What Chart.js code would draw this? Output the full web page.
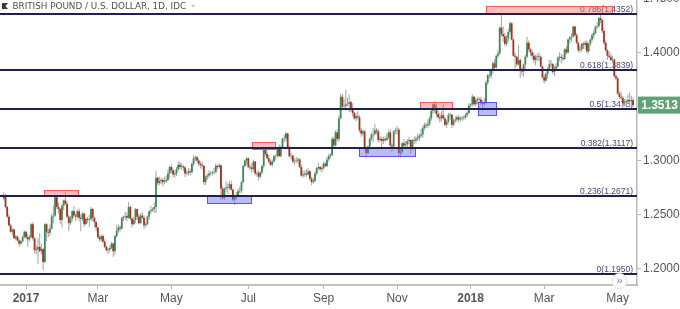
<!DOCTYPE html>
<html><head><meta charset="utf-8">
<script src="https://cdn.jsdelivr.net/npm/chart.js@4.4.1/dist/chart.umd.min.js"></script>
<style>html,body{margin:0;padding:0;background:#fff;overflow:hidden}#wrap{position:relative;width:680px;height:309px}canvas{display:block}</style>
</head><body><div id="wrap"><canvas id="c" width="680" height="309"></canvas></div>
<script>
// Daily GBP/USD candles, index 0 = 14 Dec 2016 ... index 368 = 14 May 2018
const opens=[
1.2650,1.2680,1.2570,1.2480,1.2400,1.2340,1.2360,1.2280,1.2295,1.2260,1.2230,1.2250,1.2290,
1.2340,1.2290,1.2270,1.2290,1.2410,1.2280,1.2170,1.2180,1.2200,1.2160,1.2180,1.2060,1.2410,1.2340,1.2330,1.2370,1.2480,1.2490,1.2660,1.2570,1.2550,1.2450,
1.2580,1.2630,1.2600,1.2480,1.2420,1.2460,1.2530,1.2490,1.2480,1.2530,1.2470,1.2460,1.2510,1.2410,1.2460,1.2450,1.2455,1.2550,1.2470,1.2430,
1.2380,1.2290,1.2270,1.2300,1.2250,1.2200,1.2170,1.2175,1.2190,1.2230,1.2160,1.2300,1.2350,1.2380,1.2370,1.2470,1.2480,1.2485,1.2470,1.2570,1.2460,1.2410,1.2450,
1.2550,1.2480,1.2420,1.2490,1.2470,1.2400,1.2410,1.2480,1.2530,1.2540,1.2550,1.2570,1.2840,1.2790,1.2810,1.2820,1.2800,1.2810,1.2820,1.2880,
1.2940,1.2910,1.2870,1.2880,1.2920,1.2960,1.2940,1.2945,1.2935,1.2880,1.2885,1.2900,1.2890,1.2970,1.3020,1.3030,1.3000,1.2970,1.2960,1.2950,1.2800,1.2850,1.2860,
1.2880,1.2885,1.2890,1.2895,1.2950,1.2940,1.2955,1.2740,1.2655,1.2740,1.2750,1.2745,1.2780,1.2730,1.2640,1.2660,1.2680,1.2715,1.2720,1.2800,1.2950,1.3000,
1.3020,1.2940,1.2935,1.2920,1.2990,1.2880,1.2885,1.2850,1.2890,1.2950,1.3100,1.3060,1.3020,1.2990,1.2960,1.2990,1.3040,1.3045,1.3110,1.3040,1.3120,
1.3200,1.3205,1.3250,1.3120,1.3040,1.3045,1.2990,1.2995,1.3000,1.3010,1.2940,1.2860,1.2870,1.2880,1.2870,1.2900,1.2830,1.2800,1.2810,1.2880,1.2930,1.2940,1.2920,
1.2930,1.2970,1.2950,1.3010,1.3040,1.3050,1.3200,1.3140,1.3260,1.3200,1.3390,1.3590,1.3500,1.3505,1.3520,1.3525,1.3540,1.3470,1.3440,1.3390,1.3410,
1.3400,1.3280,1.3250,1.3270,1.3110,1.3070,1.3130,1.3200,1.3240,1.3245,1.3280,1.3270,1.3190,1.3200,1.3180,1.3200,1.3190,1.3210,1.3260,1.3140,1.3130,1.3270,
1.3280,1.3285,1.3070,1.3080,1.3160,1.3140,1.3150,1.3180,1.3190,1.3120,1.3190,1.3185,1.3200,1.3210,1.3230,1.3240,1.3300,1.3330,1.3325,1.3340,1.3390,1.3460,
1.3520,1.3490,1.3430,1.3400,1.3390,1.3420,1.3390,1.3330,1.3360,1.3420,1.3425,1.3330,1.3370,1.3380,1.3400,1.3380,1.3390,1.3395,1.3400,1.3420,1.3440,
1.3510,1.3520,1.3590,1.3520,1.3560,1.3570,1.3565,1.3530,1.3525,1.3540,1.3720,1.3790,1.3785,1.3830,1.3900,1.3860,1.3970,1.3990,1.4230,1.4170,1.4150,1.4080,1.4130,
1.4190,1.4270,1.4120,1.3970,1.3960,1.3890,1.3930,1.3830,1.3825,1.3890,1.3960,1.4090,1.4030,1.4000,1.3970,1.3930,1.3960,1.3965,1.3960,1.3870,
1.3770,1.3740,1.3800,1.3850,1.3890,1.3895,1.3820,1.3850,1.3870,1.3950,1.3960,1.3950,1.3940,1.4030,1.4000,1.4120,1.4140,1.4145,1.4240,1.4160,1.4090,1.4020,
1.4030,1.4080,1.4070,1.4090,1.4010,1.4080,1.4120,1.4160,1.4180,1.4240,1.4245,1.4320,1.4300,1.4200,1.4090,1.4020,1.3970,1.3960,1.3930,1.3935,1.3780,
1.3760,1.3620,1.3590,1.3580,1.3530,1.3540,1.3550,1.3560,1.3550,1.3560];
const highs=[
1.2705,1.2690,1.2580,1.2500,1.2415,1.2375,1.2370,1.2310,1.2305,1.2275,1.2265,1.2305,1.2355,
1.2345,1.2320,1.2310,1.2420,1.2430,1.2290,1.2215,1.2280,1.2325,1.2230,1.2190,1.2420,1.2420,1.2370,1.2410,1.2510,1.2580,1.2675,1.2670,1.2610,1.2560,1.2595,
1.2640,1.2706,1.2620,1.2495,1.2485,1.2545,1.2580,1.2510,1.2545,1.2555,1.2500,1.2520,1.2515,1.2470,1.2480,1.2495,1.2570,1.2560,1.2480,1.2440,
1.2390,1.2310,1.2315,1.2315,1.2270,1.2215,1.2195,1.2215,1.2245,1.2240,1.2310,1.2400,1.2410,1.2400,1.2480,1.2490,1.2525,1.2520,1.2615,1.2580,1.2470,1.2480,1.2560,
1.2555,1.2505,1.2515,1.2520,1.2490,1.2430,1.2490,1.2540,1.2580,1.2565,1.2610,1.2905,1.2850,1.2850,1.2840,1.2835,1.2850,1.2860,1.2920,1.2950,
1.2965,1.2925,1.2905,1.2940,1.2990,1.2990,1.2975,1.2960,1.2950,1.2915,1.2930,1.2925,1.2980,1.3048,1.3045,1.3045,1.3020,1.2990,1.2990,1.2955,1.2860,1.2880,1.2910,
1.2900,1.2905,1.2930,1.2975,1.2960,1.2975,1.2960,1.2760,1.2750,1.2810,1.2790,1.2810,1.2815,1.2740,1.2680,1.2710,1.2740,1.2760,1.2810,1.2960,1.3010,1.3030,
1.3030,1.2960,1.2975,1.3010,1.2995,1.2900,1.2910,1.2900,1.2960,1.3110,1.3126,1.3090,1.3050,1.3010,1.3010,1.3050,1.3055,1.3125,1.3150,1.3140,1.3210,
1.3240,1.3267,1.3255,1.3140,1.3070,1.3050,1.3020,1.3030,1.3030,1.3020,1.2960,1.2905,1.2910,1.2920,1.2930,1.2910,1.2850,1.2840,1.2900,1.2940,1.2980,1.2950,1.2950,
1.2990,1.2985,1.3030,1.3060,1.3070,1.3220,1.3220,1.3280,1.3290,1.3420,1.3616,1.3615,1.3570,1.3657,1.3580,1.3612,1.3550,1.3530,1.3450,1.3435,1.3455,
1.3420,1.3300,1.3290,1.3280,1.3125,1.3140,1.3215,1.3260,1.3300,1.3338,1.3300,1.3290,1.3230,1.3215,1.3220,1.3225,1.3250,1.3280,1.3290,1.3160,1.3280,1.3300,
1.3320,1.3300,1.3120,1.3170,1.3200,1.3180,1.3200,1.3220,1.3195,1.3200,1.3220,1.3230,1.3250,1.3250,1.3290,1.3320,1.3350,1.3350,1.3380,1.3410,1.3480,1.3530,
1.3550,1.3537,1.3460,1.3440,1.3460,1.3520,1.3400,1.3380,1.3440,1.3440,1.3430,1.3390,1.3410,1.3420,1.3420,1.3410,1.3410,1.3420,1.3440,1.3460,1.3530,
1.3530,1.3613,1.3600,1.3580,1.3590,1.3590,1.3590,1.3560,1.3580,1.3740,1.3800,1.3830,1.3850,1.3920,1.3940,1.3980,1.4020,1.4240,1.4345,1.4240,1.4180,1.4160,1.4220,
1.4285,1.4280,1.4130,1.4000,1.3970,1.4070,1.3950,1.3860,1.3900,1.3980,1.4145,1.4110,1.4040,1.4020,1.4000,1.3980,1.3990,1.4000,1.3975,1.3880,
1.3800,1.3815,1.3860,1.3930,1.3930,1.3900,1.3880,1.3900,1.3970,1.4000,1.3990,1.3980,1.4040,1.4060,1.4130,1.4150,1.4180,1.4245,1.4245,1.4180,1.4100,1.4060,
1.4090,1.4100,1.4110,1.4110,1.4090,1.4130,1.4180,1.4210,1.4250,1.4280,1.4330,1.4350,1.4310,1.4220,1.4110,1.4030,1.4010,1.3990,1.3970,1.3945,1.3800,
1.3770,1.3640,1.3640,1.3600,1.3570,1.3570,1.3610,1.3630,1.3600,1.3580];
const lows=[
1.2630,1.2555,1.2465,1.2390,1.2330,1.2305,1.2270,1.2260,1.2250,1.2200,1.2220,1.2240,1.2280,
1.2270,1.2200,1.2250,1.2280,1.2260,1.2140,1.2130,1.2040,1.2150,1.2130,1.1986,1.2050,1.2255,1.2290,1.2300,1.2360,1.2420,1.2480,1.2550,1.2510,1.2415,1.2380,
1.2540,1.2590,1.2470,1.2345,1.2400,1.2440,1.2475,1.2440,1.2460,1.2435,1.2345,1.2440,1.2385,1.2405,1.2420,1.2385,1.2440,1.2440,1.2385,1.2345,
1.2275,1.2250,1.2245,1.2235,1.2190,1.2155,1.2135,1.2150,1.2180,1.2109,1.2130,1.2285,1.2330,1.2340,1.2360,1.2440,1.2450,1.2440,1.2460,1.2445,1.2380,1.2400,1.2420,
1.2450,1.2410,1.2410,1.2460,1.2365,1.2380,1.2400,1.2450,1.2505,1.2525,1.2515,1.2515,1.2770,1.2770,1.2780,1.2760,1.2780,1.2795,1.2810,1.2840,
1.2880,1.2845,1.2840,1.2855,1.2900,1.2920,1.2915,1.2900,1.2845,1.2860,1.2860,1.2860,1.2880,1.2950,1.2995,1.2975,1.2945,1.2925,1.2920,1.2775,1.2770,1.2820,1.2840,
1.2860,1.2860,1.2870,1.2880,1.2920,1.2925,1.2635,1.2640,1.2630,1.2710,1.2690,1.2730,1.2720,1.2625,1.2589,1.2640,1.2670,1.2695,1.2700,1.2790,1.2940,1.2960,
1.2930,1.2910,1.2890,1.2900,1.2860,1.2850,1.2812,1.2830,1.2870,1.2930,1.3040,1.3010,1.2975,1.2950,1.2945,1.2980,1.3010,1.3030,1.3030,1.3030,1.3110,
1.3170,1.3180,1.3110,1.3030,1.3010,1.2975,1.2960,1.2975,1.2975,1.2930,1.2850,1.2840,1.2850,1.2850,1.2860,1.2815,1.2774,1.2785,1.2800,1.2860,1.2910,1.2900,1.2890,
1.2910,1.2940,1.2940,1.2990,1.3020,1.3040,1.3120,1.3130,1.3180,1.3170,1.3380,1.3470,1.3490,1.3460,1.3500,1.3450,1.3450,1.3410,1.3380,1.3360,1.3380,
1.3260,1.3220,1.3230,1.3100,1.3027,1.3060,1.3120,1.3180,1.3170,1.3230,1.3240,1.3170,1.3170,1.3120,1.3150,1.3170,1.3180,1.3200,1.3120,1.3080,1.3120,1.3240,
1.3240,1.3040,1.3030,1.3060,1.3110,1.3110,1.3110,1.3150,1.3065,1.3100,1.3150,1.3160,1.3180,1.3180,1.3210,1.3210,1.3280,1.3300,1.3300,1.3320,1.3370,1.3430,
1.3440,1.3400,1.3380,1.3350,1.3360,1.3380,1.3320,1.3300,1.3340,1.3380,1.3300,1.3320,1.3350,1.3360,1.3350,1.3360,1.3370,1.3370,1.3380,1.3400,1.3430,
1.3490,1.3500,1.3510,1.3500,1.3520,1.3540,1.3510,1.3460,1.3500,1.3520,1.3700,1.3760,1.3760,1.3800,1.3850,1.3850,1.3950,1.3980,1.4150,1.4100,1.4060,1.4060,1.4100,
1.4170,1.4110,1.3960,1.3850,1.3870,1.3880,1.3765,1.3790,1.3770,1.3850,1.3950,1.4010,1.3970,1.3940,1.3900,1.3880,1.3920,1.3920,1.3860,1.3760,
1.3712,1.3730,1.3760,1.3830,1.3860,1.3800,1.3780,1.3830,1.3860,1.3920,1.3900,1.3920,1.3930,1.3980,1.3990,1.4080,1.4100,1.4140,1.4150,1.4080,1.4000,1.4000,
1.4010,1.4030,1.4030,1.3990,1.3990,1.4060,1.4100,1.4130,1.4170,1.4220,1.4230,1.4270,1.4180,1.4070,1.4010,1.3930,1.3950,1.3920,1.3900,1.3770,1.3740,
1.3610,1.3570,1.3560,1.3490,1.3500,1.3480,1.3520,1.3490,1.3500,1.3490];
const closes=[
1.2680,1.2570,1.2480,1.2400,1.2340,1.2360,1.2280,1.2295,1.2260,1.2230,1.2250,1.2290,1.2340,
1.2290,1.2270,1.2290,1.2410,1.2280,1.2170,1.2180,1.2200,1.2160,1.2180,1.2060,1.2410,1.2340,1.2330,1.2370,1.2480,1.2490,1.2660,1.2570,1.2550,1.2450,1.2580,
1.2630,1.2600,1.2480,1.2420,1.2460,1.2530,1.2490,1.2480,1.2530,1.2470,1.2460,1.2510,1.2410,1.2460,1.2450,1.2455,1.2550,1.2470,1.2430,1.2380,
1.2290,1.2270,1.2300,1.2250,1.2200,1.2170,1.2175,1.2190,1.2230,1.2160,1.2300,1.2350,1.2380,1.2370,1.2470,1.2480,1.2485,1.2470,1.2570,1.2460,1.2410,1.2450,1.2550,
1.2480,1.2420,1.2490,1.2470,1.2400,1.2410,1.2480,1.2530,1.2540,1.2550,1.2570,1.2840,1.2790,1.2810,1.2820,1.2800,1.2810,1.2820,1.2880,1.2940,
1.2910,1.2870,1.2880,1.2920,1.2960,1.2940,1.2945,1.2935,1.2880,1.2885,1.2900,1.2890,1.2970,1.3020,1.3030,1.3000,1.2970,1.2960,1.2950,1.2800,1.2850,1.2860,1.2880,
1.2885,1.2890,1.2895,1.2950,1.2940,1.2955,1.2740,1.2655,1.2740,1.2750,1.2745,1.2780,1.2730,1.2640,1.2660,1.2680,1.2715,1.2720,1.2800,1.2950,1.3000,1.3020,
1.2940,1.2935,1.2920,1.2990,1.2880,1.2885,1.2850,1.2890,1.2950,1.3100,1.3060,1.3020,1.2990,1.2960,1.2990,1.3040,1.3045,1.3110,1.3040,1.3120,1.3200,
1.3205,1.3250,1.3120,1.3040,1.3045,1.2990,1.2995,1.3000,1.3010,1.2940,1.2860,1.2870,1.2880,1.2870,1.2900,1.2830,1.2800,1.2810,1.2880,1.2930,1.2940,1.2920,1.2930,
1.2970,1.2950,1.3010,1.3040,1.3050,1.3200,1.3140,1.3260,1.3200,1.3390,1.3590,1.3500,1.3505,1.3520,1.3525,1.3540,1.3470,1.3440,1.3390,1.3410,1.3400,
1.3280,1.3250,1.3270,1.3110,1.3070,1.3130,1.3200,1.3240,1.3245,1.3280,1.3270,1.3190,1.3200,1.3180,1.3200,1.3190,1.3210,1.3260,1.3140,1.3130,1.3270,1.3280,
1.3285,1.3070,1.3080,1.3160,1.3140,1.3150,1.3180,1.3190,1.3120,1.3190,1.3185,1.3200,1.3210,1.3230,1.3240,1.3300,1.3330,1.3325,1.3340,1.3390,1.3460,1.3520,
1.3490,1.3430,1.3400,1.3390,1.3420,1.3390,1.3330,1.3360,1.3420,1.3425,1.3330,1.3370,1.3380,1.3400,1.3380,1.3390,1.3395,1.3400,1.3420,1.3440,1.3510,
1.3520,1.3590,1.3520,1.3560,1.3570,1.3565,1.3530,1.3525,1.3540,1.3720,1.3790,1.3785,1.3830,1.3900,1.3860,1.3970,1.3990,1.4230,1.4170,1.4150,1.4080,1.4130,1.4190,
1.4270,1.4120,1.3970,1.3960,1.3890,1.3930,1.3830,1.3825,1.3890,1.3960,1.4090,1.4030,1.4000,1.3970,1.3930,1.3960,1.3965,1.3960,1.3870,1.3770,
1.3740,1.3800,1.3850,1.3890,1.3895,1.3820,1.3850,1.3870,1.3950,1.3960,1.3950,1.3940,1.4030,1.4000,1.4120,1.4140,1.4145,1.4240,1.4160,1.4090,1.4020,1.4030,
1.4080,1.4070,1.4090,1.4010,1.4080,1.4120,1.4160,1.4180,1.4240,1.4245,1.4320,1.4300,1.4200,1.4090,1.4020,1.3970,1.3960,1.3930,1.3935,1.3780,1.3760,
1.3620,1.3590,1.3580,1.3530,1.3540,1.3550,1.3560,1.3550,1.3560,1.3513];

// x-axis month ticks (candle index) and labels
const tickIdx=[13,55,98,143,187,230,273,316,359];
const tickLabels=["2017","Mar","May","Jul","Sep","Nov","2018","Mar","May"];
// y-axis price ticks
const priceTicks=[1.20,1.25,1.30,1.35,1.40,1.45];
// Fibonacci retracement levels
const fibRatios=["0","0.236","0.382","0.5","0.618","0.786"];
const fibLevels=[1.1950,1.2671,1.3117,1.3478,1.3839,1.4352];
// support / resistance zones (candle index range, price range)
const zoneStart=[23.5,118.7,144.9,207.9,243.4,277.5,281.8];
const zoneEnd=[44.0,145.0,158.9,240.9,262.5,288.7,356.4];
const zoneTop=[1.2727,1.2671,1.3169,1.3116,1.3539,1.3544,1.4431];
const zoneBottom=[1.2671,1.2593,1.3097,1.3037,1.3463,1.3410,1.4352];
const zoneKind=["res","sup","res","sup","res","sup","res"];
const title="BRITISH POUND / U.S. DOLLAR, 1D, IDC";

const UP='#3d8a58', DOWN='#a5321f', WICK='#a3a3a3';
const FONT='"Liberation Sans", Arial, sans-serif';

const overlay={
  id:'overlay',
  beforeDatasetsDraw(chart){
    const {ctx,chartArea:a,scales:{y}}=chart;
    ctx.save();
    ctx.font='8.5px '+FONT;
    ctx.fillStyle='#45457a'; ctx.textAlign='right'; ctx.textBaseline='alphabetic';
    fibLevels.forEach((v,i)=>{
      const py=Math.round(y.getPixelForValue(v));
      ctx.fillText(fibRatios[i]+'('+v.toFixed(4)+')',a.right-4,py-2);
    });
    ctx.restore();
  },
  afterDatasetsDraw(chart){
    const {ctx,chartArea:a,scales:{x,y}}=chart;
    ctx.save();
    ctx.beginPath(); ctx.rect(a.left,a.top,a.right-a.left,a.bottom-a.top); ctx.clip();
    zoneStart.forEach((s,i)=>{
      const x0=Math.round(x.getPixelForValue(s)), x1=Math.round(x.getPixelForValue(zoneEnd[i]));
      const y0=Math.round(y.getPixelForValue(zoneTop[i])), y1=Math.round(y.getPixelForValue(zoneBottom[i]));
      const red=zoneKind[i]==='res';
      ctx.fillStyle=red?'rgba(244,110,110,0.45)':'rgba(105,105,245,0.45)';
      ctx.fillRect(x0,y0,x1-x0,y1-y0);
      ctx.strokeStyle=red?'rgba(238,80,80,0.85)':'rgba(70,70,235,0.85)';
      ctx.lineWidth=1;
      ctx.strokeRect(x0+0.5,y0+0.5,x1-x0-1,y1-y0-1);
    });
    ctx.strokeStyle='#1f1f52'; ctx.lineWidth=2;
    fibLevels.forEach(v=>{
      const py=Math.round(y.getPixelForValue(v));
      ctx.beginPath(); ctx.moveTo(a.left,py); ctx.lineTo(a.right,py); ctx.stroke();
    });
    ctx.restore();
  },
  afterDraw(chart){
    const {ctx,chartArea:a,scales:{y},width}=chart;
    ctx.save();
    // title
    ctx.fillStyle='#3a3a3a'; ctx.fillRect(2,3,6,6);
    ctx.fillStyle='#fff'; ctx.beginPath(); ctx.moveTo(8,3); ctx.lineTo(5.5,6); ctx.lineTo(8,9); ctx.closePath(); ctx.fill();
    ctx.font='8.8px "DejaVu Sans", sans-serif'; ctx.fillStyle='#505050'; ctx.textAlign='left'; ctx.textBaseline='middle';
    ctx.fillText(title,12.5,6.5);
    const tw=ctx.measureText(title).width;
    ctx.fillStyle='#c0c0c0'; ctx.beginPath();
    ctx.moveTo(12.5+tw+5,5); ctx.lineTo(12.5+tw+9,5); ctx.lineTo(12.5+tw+7,7.5); ctx.closePath(); ctx.fill();
    // last price label
    const last=closes[closes.length-1];
    const py=y.getPixelForValue(last);
    ctx.fillStyle='#5fa275';
    ctx.fillRect(a.right+1,py-8.5,width-a.right-1,17);
    ctx.fillStyle='#fff'; ctx.font='bold 12px '+FONT; ctx.textAlign='center'; ctx.textBaseline='middle';
    ctx.fillText(last.toFixed(4),(a.right+width)/2+1,py+0.5);
    // scroll button
    ctx.beginPath(); ctx.arc(619.5,281,7.5,0,Math.PI*2);
    ctx.fillStyle='#fff'; ctx.fill(); ctx.strokeStyle='#e2e2e2'; ctx.lineWidth=1; ctx.stroke();
    ctx.fillStyle='#6a8dbf'; ctx.font='11px '+FONT; ctx.fillText('\u00bb',619.5,280.5);
    ctx.restore();
  }
};

const bodyData=closes.map((c,i)=>({x:i,y:[opens[i],c]}));
const wickData=highs.map((h,i)=>({x:i,y:[lows[i],h]}));
const candleColor=ctx=>closes[ctx.dataIndex]>=opens[ctx.dataIndex]?UP:DOWN;
const noPad=s=>{s.paddingTop=0;s.paddingBottom=0;s.paddingLeft=0;s.paddingRight=0;};

new Chart(document.getElementById('c'),{
  type:'bar',
  data:{datasets:[
    {data:wickData,backgroundColor:WICK,barThickness:1,grouped:false,order:2,inflateAmount:0,borderWidth:0},
    {data:bodyData,backgroundColor:candleColor,barThickness:1.8,grouped:false,order:1,inflateAmount:0,borderWidth:0}
  ]},
  options:{
    responsive:false,animation:false,devicePixelRatio:1,
    layout:{padding:0},
    plugins:{legend:{display:false},tooltip:{enabled:false}},
    scales:{
      x:{type:'linear',min:-2.22,max:370.3,offset:false,
        grid:{drawOnChartArea:false,drawTicks:true,tickLength:4,color:'#b5b5b5',offset:false},
        border:{display:true,color:'#c2c2c2',width:2},
        afterBuildTicks:s=>{s.ticks=tickIdx.map(v=>({value:v}));},
        afterFit:s=>{s.height=24;noPad(s);},
        ticks:{autoSkip:false,maxRotation:0,padding:2,color:'#555',
          font:ctx=>({family:FONT,size:12,weight:(ctx.tick&&/^\d{4}$/.test(tickLabels[tickIdx.indexOf(ctx.tick.value)]))?'bold':'normal'}),
          callback:v=>tickLabels[tickIdx.indexOf(v)]}
      },
      y:{type:'linear',position:'right',min:1.18472,max:1.44861,
        afterBuildTicks:s=>{s.ticks=priceTicks.map(v=>({value:v}));},
        afterFit:s=>{s.width=43;noPad(s);},
        grid:{drawOnChartArea:false,tickLength:4,color:'#b5b5b5'},
        border:{display:true,color:'#b8b8b8',width:1.5},
        ticks:{padding:2,color:'#555',font:{family:FONT,size:12},callback:v=>Number(v).toFixed(4)}
      }
    }
  },
  plugins:[overlay]
});
</script></body></html>
